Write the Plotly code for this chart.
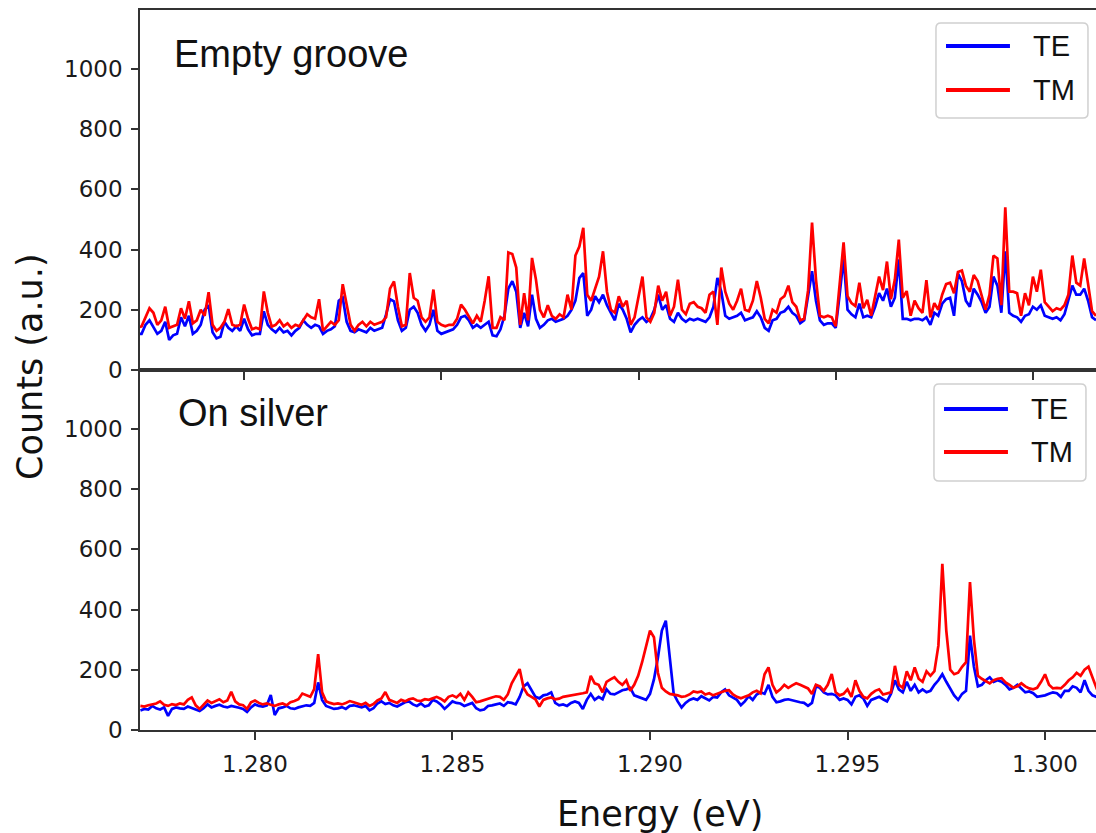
import numpy as np
import plotly.graph_objects as go

# ---------------- data ----------------
energy_start = 1.2771   # eV
energy_step = 0.0001    # eV
n_points = 246
energy = np.round(energy_start + energy_step * np.arange(n_points), 4)

top_te = [
    130, 125, 120, 120, 150, 165, 140, 120, 130, 160,
    100, 115, 120, 175, 145, 180, 120, 130, 150, 200,
    215, 125, 105, 110, 160, 140, 130, 145, 130, 170,
    135, 115, 120, 120, 195, 150, 135, 125, 140, 125,
    130, 115, 130, 140, 165, 150, 140, 150, 145, 120,
    130, 135, 145, 230, 240, 160, 130, 125, 135, 130,
    125, 140, 130, 135, 140, 185, 235, 228, 165, 130,
    140, 200, 210, 190, 150, 130, 150, 200, 130, 120,
    125, 130, 135, 150, 175, 180, 165, 140, 150, 140,
    150, 160, 115, 112, 135, 180, 270, 295, 260, 140,
    190, 145, 250, 170, 140, 150, 165, 170, 160, 165,
    170, 180, 200, 230, 305, 322, 180, 200, 245, 225,
    250, 215, 190, 165, 220, 200, 170, 125, 150, 165,
    175, 160, 170, 200, 250, 200, 215, 170, 160, 190,
    170, 160, 170, 165, 170, 165, 160, 175, 210, 306,
    260, 180, 170, 175, 180, 190, 165, 170, 175, 195,
    175, 140, 130, 165, 170, 190, 195, 210, 190, 180,
    155, 165, 255, 328, 230, 165, 150, 155, 155, 140,
    250, 372, 200, 185, 175, 220, 175, 180, 175, 210,
    255, 230, 270, 210, 240, 367, 170, 170, 165, 170,
    170, 165, 175, 150, 190, 180, 220, 235, 240, 180,
    320, 295, 230, 210, 270, 250, 225, 190, 210, 310,
    280, 190, 394, 190, 180, 175, 160, 180, 185, 210,
    200, 215, 180, 175, 170, 175, 165, 185, 230, 280,
    250, 250, 270, 230, 175, 165,
]

top_tm = [
    150, 145, 140, 145, 175, 205, 190, 150, 165, 210,
    140, 145, 150, 205, 170, 228, 155, 165, 200, 180,
    258, 150, 130, 140, 160, 202, 150, 145, 150, 217,
    170, 135, 140, 135, 261, 190, 144, 150, 165, 145,
    155, 140, 150, 145, 165, 185, 175, 170, 235, 130,
    145, 160, 150, 165, 285, 220, 150, 130, 150, 160,
    145, 160, 150, 155, 160, 175, 270, 294, 210, 145,
    150, 322, 240, 230, 175, 160, 175, 267, 160, 150,
    145, 150, 150, 170, 217, 200, 175, 155, 180, 160,
    230, 311, 140, 140, 175, 165, 390, 385, 340, 150,
    255, 165, 372, 300, 200, 175, 215, 180, 170, 185,
    175, 250, 200, 380, 410, 472, 250, 230, 270, 310,
    394, 260, 200, 190, 245, 210, 230, 150, 175, 240,
    310, 175, 160, 190, 280, 230, 260, 180, 210, 300,
    200, 185, 220, 225, 210, 205, 190, 250, 260, 150,
    340, 260, 220, 200, 230, 270, 200, 195, 230, 295,
    240, 170, 155, 200, 190, 235, 245, 280, 225, 210,
    165, 170, 265, 489, 300, 180, 175, 180, 175, 145,
    280, 424, 245, 222, 212, 290, 205, 233, 180, 250,
    310, 265, 360, 235, 300, 433, 240, 262, 180, 230,
    205, 190, 298, 175, 222, 200, 250, 285, 290, 255,
    325, 330, 280, 260, 315, 295, 245, 200, 250, 380,
    370, 215, 540, 260, 260, 255, 180, 255, 215, 310,
    260, 333, 225, 210, 195, 205, 200, 215, 250, 380,
    290, 280, 370, 285, 195, 180,
]

bottom_te = [
    65, 70, 68, 80, 72, 68, 75, 47, 70, 75,
    72, 70, 78, 74, 68, 63, 72, 85, 75, 80,
    84, 78, 75, 80, 78, 74, 70, 60, 75, 85,
    80, 78, 82, 116, 50, 72, 75, 80, 72, 70,
    75, 78, 82, 80, 90, 158, 100, 80, 75, 70,
    72, 76, 70, 80, 82, 78, 75, 80, 65, 72,
    88, 95, 86, 90, 82, 78, 85, 92, 95, 85,
    80, 88, 78, 82, 100, 95, 85, 70, 82, 95,
    90, 88, 80, 85, 90, 72, 65, 68, 80, 82,
    85, 88, 80, 92, 90, 85, 110, 145, 155, 130,
    110, 105, 115, 118, 125, 90, 82, 85, 80, 90,
    95, 90, 70, 100, 120, 100, 110, 102, 135, 120,
    118, 125, 132, 135, 140, 115, 110, 105, 100, 120,
    168, 240, 330, 363, 250, 120, 95, 75, 90, 100,
    105, 100, 112, 105, 98, 110, 108, 125, 135, 115,
    108, 100, 82, 95, 112, 100, 118, 125, 120, 150,
    110, 92, 95, 100, 102, 98, 95, 92, 90, 80,
    90, 145, 140, 125, 118, 120, 115, 100, 105, 100,
    85, 110, 115, 105, 80, 100, 105, 110, 102, 95,
    120, 165, 135, 125, 160, 130, 150, 125, 135, 125,
    130, 150, 165, 185, 160, 135, 115, 100, 120, 130,
    313, 210, 145, 150, 165, 175, 160, 165, 160, 150,
    135, 140, 150, 138, 125, 128, 122, 110, 112, 115,
    120, 125, 122, 110, 130, 130, 145, 140, 125, 165,
    130, 115, 110, 110, 108, 112,
]

bottom_tm = [
    80, 78, 82, 85, 88, 95, 84, 80, 86, 83,
    88, 85, 100, 108, 82, 70, 85, 98, 90, 95,
    102, 92, 98, 127, 95, 85, 82, 70, 92, 98,
    90, 85, 88, 84, 80, 85, 88, 82, 92, 96,
    102, 121, 115, 110, 136, 252, 125, 95, 90, 86,
    88, 85, 90, 96, 92, 88, 84, 90, 80, 86,
    98, 105, 126, 100, 96, 90, 100, 95, 102, 105,
    98, 96, 102, 100, 105, 110, 104, 95, 110, 115,
    108, 120, 100, 125, 110, 92, 95, 100, 103, 108,
    112, 110, 100, 118, 155, 180, 202, 140, 118, 110,
    102, 78, 100, 105, 108, 102, 104, 110, 112, 115,
    118, 120, 122, 125, 180, 155, 150, 125, 160, 168,
    175, 160, 150, 165, 130, 150, 180, 225, 280, 330,
    308, 190, 140, 128, 120, 118, 115, 110, 112, 118,
    128, 125, 128, 118, 122, 115, 120, 125, 130, 132,
    118, 110, 105, 110, 115, 125, 130, 122, 185, 208,
    150, 125, 135, 150, 140, 148, 155, 150, 145, 138,
    120, 150, 145, 130, 150, 186, 125, 115, 120, 135,
    110, 165, 130, 110, 105, 120, 130, 135, 118, 122,
    125, 213, 150, 140, 195, 165, 208, 170, 160, 195,
    180, 195, 280, 552, 330, 200, 185, 190, 210, 225,
    491, 300, 180, 170, 162, 155, 165, 170, 172, 158,
    150, 140, 145, 155, 145, 138, 135, 140, 160, 185,
    150, 138, 140, 138, 150, 165, 175, 190, 180, 200,
    210, 175, 140, 150, 155, 150,
]

for arr in (top_te, top_tm, bottom_te, bottom_tm):
    assert len(arr) == n_points, len(arr)

x_ticks = [1.280, 1.285, 1.290, 1.295, 1.300]
x_tick_text = ["1.280", "1.285", "1.290", "1.295", "1.300"]
y_ticks = [0, 200, 400, 600, 800, 1000]
y_tick_text = ["0", "200", "400", "600", "800", "1000"]
panel_labels = ["Empty groove", "On silver"]
series_names = ["TE", "TM"]

# ---------------- style ----------------
BLUE = "#0000ff"
RED = "#ff0000"
AX = "#333333"
LW = 2.7

fig = go.Figure()
fig.add_trace(go.Scatter(x=energy, y=top_te, name="TE", mode="lines",
                         line=dict(color=BLUE, width=LW), xaxis="x", yaxis="y"))
fig.add_trace(go.Scatter(x=energy, y=top_tm, name="TM", mode="lines",
                         line=dict(color=RED, width=LW), xaxis="x", yaxis="y"))
fig.add_trace(go.Scatter(x=energy, y=bottom_te, name="TE", mode="lines",
                         line=dict(color=BLUE, width=LW), xaxis="x2", yaxis="y2"))
fig.add_trace(go.Scatter(x=energy, y=bottom_tm, name="TM", mode="lines",
                         line=dict(color=RED, width=LW), xaxis="x2", yaxis="y2"))

tickfont = dict(family="DejaVu Sans", size=23, color="#1a1a1a")
common_x = dict(tickvals=x_ticks, ticktext=x_tick_text, ticks="outside", ticklen=8,
                tickwidth=1.5, tickcolor=AX, showline=True, linecolor=AX, linewidth=1.5,
                mirror=True, showgrid=False, zeroline=False, tickfont=tickfont)
common_y = dict(tickvals=y_ticks, ticktext=y_tick_text, ticks="outside", ticklen=7,
                tickwidth=1.5, tickcolor=AX, showline=True, linecolor=AX, linewidth=1.5,
                showgrid=False, zeroline=False, tickfont=tickfont, range=[0, 1195],
                ticklabelstandoff=4)

fig.update_layout(
    width=1096, height=833,
    margin=dict(l=140, r=0, t=10, b=103),
    paper_bgcolor="white", plot_bgcolor="white",
    showlegend=False,
    xaxis=dict(domain=[0, 1], anchor="y", range=[1.27736, 1.30160],
               showticklabels=False, **common_x),
    yaxis=dict(domain=[0.5, 1], anchor="x", **common_y),
    xaxis2=dict(domain=[0, 1], anchor="y2", range=[1.27709, 1.30129],
                showticklabels=True, ticklabelstandoff=5, **common_x),
    yaxis2=dict(domain=[0, 0.5], anchor="x2", **common_y),
)

# --------- legends (drawn as boxes, sample lines and text) ---------
def rounded_box(x0, y0, x1, y1, rpx=5):
    rx, ry = rpx / 956.0, rpx / 720.0
    return (f"M{x0+rx},{y0} L{x1-rx},{y0} Q{x1},{y0} {x1},{y0+ry} "
            f"L{x1},{y1-ry} Q{x1},{y1} {x1-rx},{y1} L{x0+rx},{y1} "
            f"Q{x0},{y1} {x0},{y1-ry} L{x0},{y0+ry} Q{x0},{y0} {x0+rx},{y0} Z")

legend_specs = [
    # box (x0,y0,x1,y1), line x0,x1, TE y, TM y, text x
    ((0.8326, 0.8500, 0.9916, 0.9819), 0.8431, 0.9100, 0.9500, 0.8889, 0.9320),
    ((0.8305, 0.3458, 0.9895, 0.4806), 0.8410, 0.9079, 0.4458, 0.3861, 0.9299),
]
shapes = []
annotations = []
for (bx0, by0, bx1, by1), lx0, lx1, yte, ytm, tx in legend_specs:
    shapes.append(dict(type="path", xref="paper", yref="paper",
                       path=rounded_box(bx0, by0, bx1, by1),
                       line=dict(color="#d0d0d0", width=1.5), fillcolor="rgba(255,255,255,0.8)"))
    for yy, col, nm in ((yte, BLUE, series_names[0]), (ytm, RED, series_names[1])):
        shapes.append(dict(type="line", xref="paper", yref="paper",
                           x0=lx0, x1=lx1, y0=yy, y1=yy, line=dict(color=col, width=4)))
        annotations.append(dict(xref="paper", yref="paper", x=tx, y=yy, text=nm,
                                showarrow=False, xanchor="left", yanchor="middle",
                                font=dict(family="Liberation Sans", size=29, color="#111111")))

# panel labels
annotations.append(dict(xref="paper", yref="paper", x=0.0335, y=0.9389, text=panel_labels[0],
                        showarrow=False, xanchor="left", yanchor="middle",
                        font=dict(family="Liberation Sans", size=38, color="#111111")))
annotations.append(dict(xref="paper", yref="paper", x=0.0375, y=0.4396, text=panel_labels[1],
                        showarrow=False, xanchor="left", yanchor="middle",
                        font=dict(family="Liberation Sans", size=38, color="#111111")))
# axis titles
annotations.append(dict(xref="paper", yref="paper", x=0.5439, y=-0.1160, text="Energy (eV)",
                        showarrow=False, xanchor="center", yanchor="middle",
                        font=dict(family="DejaVu Sans", size=35, color="#111111")))
annotations.append(dict(xref="paper", yref="paper", x=-0.1151, y=0.5056, text="Counts (a.u.)",
                        showarrow=False, xanchor="center", yanchor="middle", textangle=-90,
                        font=dict(family="DejaVu Sans", size=35, color="#111111")))

fig.update_layout(shapes=shapes, annotations=annotations)
fig.write_html("out.html")
